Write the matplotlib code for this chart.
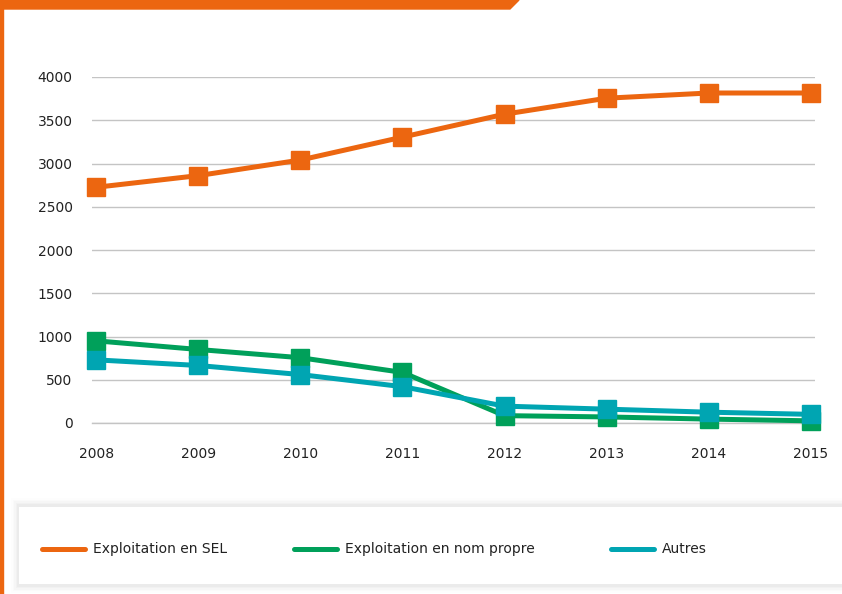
import matplotlib
matplotlib.use("Agg")
import matplotlib.pyplot as plt
from matplotlib.patches import Polygon, Rectangle
from matplotlib.lines import Line2D

years = [2008, 2009, 2010, 2011, 2012, 2013, 2014, 2015]
sel = [2725, 2860, 3040, 3305, 3570, 3755, 3815, 3815]
nom_propre = [950, 850, 755, 585, 85, 70, 45, 25]
autres = [730, 665, 560, 420, 195, 160, 125, 100]

series = [
    ("Exploitation en SEL", sel, "#EC6610"),
    ("Exploitation en nom propre", nom_propre, "#00A05A"),
    ("Autres", autres, "#00A5B2"),
]
yticks = [0, 500, 1000, 1500, 2000, 2500, 3000, 3500, 4000]

W, H = 842, 594
plt.rcParams['font.family'] = ['DejaVu Sans']
fig = plt.figure(figsize=(W / 100, H / 100), dpi=100)

# decorations: top orange band and left orange rule
fig.patches.append(Polygon([(0, 1), (519 / W, 1), (510 / W, 1 - 9 / H), (0, 1 - 9 / H)],
                           closed=True, transform=fig.transFigure, color="#EC6610", zorder=5))
fig.patches.append(Rectangle((0, 0), 3 / W, 1, transform=fig.transFigure,
                             color="#EC6610", zorder=5))

# chart
ax = fig.add_axes([92 / W, 1 - 423 / H, (815 - 92) / W, (423 - 77) / H])
for label, vals, col in series:
    ax.plot(years, vals, color=col, lw=3.6, marker="s", markersize=13,
            clip_on=False, zorder=3, solid_joinstyle="miter")

ax.set_xlim(2007.96, 2015.04)
ax.set_ylim(0, 4000)
ax.set_yticks(yticks)
ax.set_xticks(years)
ax.grid(axis="y", color="#c4c4c4", lw=1)
ax.axhline(0, color="#c4c4c4", lw=1, zorder=0.5, clip_on=False)
ax.set_axisbelow(True)
for s in ax.spines.values():
    s.set_visible(False)
ax.tick_params(length=0, labelsize=10, labelcolor="#222222")
ax.tick_params(axis="x", pad=17)
ax.tick_params(axis="y", pad=14)

# legend box with soft shadow
for i, a in enumerate([0.008, 0.012, 0.016, 0.02, 0.025]):
    off = (5 - i) * 1.6
    fig.patches.append(Rectangle(((19 - off) / W, 1 - (585 + off) / H), (860 - 19 + 2 * off) / W,
                                 (585 - 506 + 2 * off) / H, transform=fig.transFigure,
                                 color="black", alpha=a, lw=0, zorder=1))
fig.patches.append(Rectangle((19 / W, 1 - 584 / H), (860 - 19) / W, (584 - 507) / H,
                             transform=fig.transFigure, color="white", lw=0, zorder=2))

leg_x = [42, 294, 611]
ly = 1 - 549 / H
for (label, vals, col), x0 in zip(series, leg_x):
    fig.add_artist(Line2D([x0 / W, (x0 + 43) / W], [ly, ly], color=col, lw=3.6,
                          solid_capstyle="round", transform=fig.transFigure, zorder=3))
    fig.text((x0 + 51) / W, ly, label, fontsize=10, color="#222222", va="center",
             ha="left", zorder=3)

fig.savefig("out.png", dpi=100)
